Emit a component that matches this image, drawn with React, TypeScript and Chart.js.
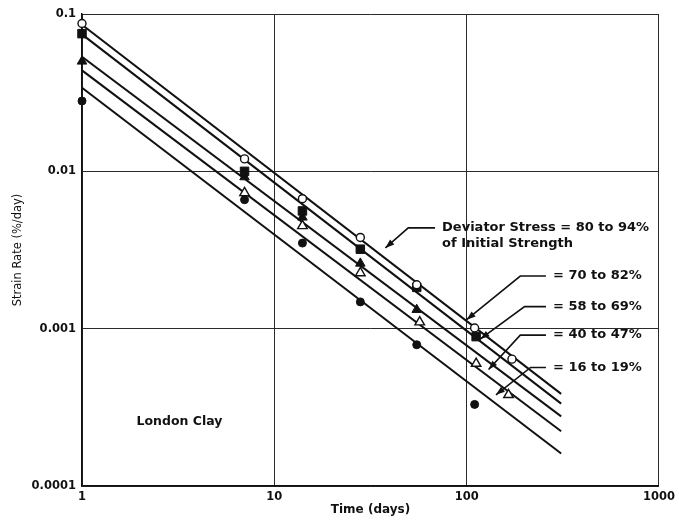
import React, { useEffect, useRef } from "react";
import { Chart, registerables } from "chart.js";

Chart.register(...registerables);

// ---- data ----
const xTickValues = [1, 10, 100, 1000];
const xTickLabels = ["1", "10", "100", "1000"];
const yTickValues = [0.0001, 0.001, 0.01, 0.1];
const yTickLabels = ["0.0001", "0.001", "0.01", "0.1"];

// measured points (Time in days, Strain rate in %/day)
const openCircleX = [1, 7, 14, 28, 55, 110, 172];
const openCircleY = [0.087, 0.012, 0.0067, 0.0038, 0.0019, 0.00101, 0.00064];
const filledSquareX = [1, 7, 14, 28, 55, 112];
const filledSquareY = [0.075, 0.01, 0.0056, 0.0032, 0.00183, 0.00089];
const filledTriangleX = [1, 7, 14, 28, 55];
const filledTriangleY = [0.05, 0.0092, 0.0051, 0.0026, 0.00132];
const openTriangleX = [7, 14, 28, 57, 112, 165];
const openTriangleY = [0.0073, 0.0045, 0.00226, 0.0011, 0.0006, 0.00038];
const filledCircleX = [1, 7, 14, 28, 55, 110];
const filledCircleY = [0.028, 0.0066, 0.0035, 0.00148, 0.00079, 0.00033];

// fitted straight lines: value at t = 1 day and at t = 310 days
const fitStartX = 1;
const fitEndX = 310;
const fitStartY = [0.0855, 0.0742, 0.0535, 0.0438, 0.034];
const fitEndY = [0.000385, 0.000334, 0.000277, 0.000223, 0.000161];

// annotation texts
const noteTexts = [
  ["Deviator Stress = 80 to 94%", "of Initial Strength"],
  ["= 70 to 82%"],
  ["= 58 to 69%"],
  ["= 40 to 47%"],
  ["= 16 to 19%"],
];
const noteTextX = [74.5, 281, 281, 281, 281];
const noteTextY = [0.00437, 0.00216, 0.00138, 0.00091, 0.000567];
const noteElbowX = [49.7, 190, 200, 190, 215];
const noteTipX = [37.8, 100, 118, 130, 142];
const noteTipY = [0.00326, 0.00114, 0.00086, 0.00055, 0.00038];

const siteLabel = "London Clay";
const siteLabelX = 1.92;
const siteLabelY = 0.000257;

const xTitle = "Time (days)";
const yTitle = "Strain Rate (%/day)";

const INK = "#111";

const toPts = (xs: number[], ys: number[]) => xs.map((x, i) => ({ x, y: ys[i] }));

const notesPlugin = {
  id: "notes",
  afterDatasetsDraw(chart: any) {
    const { ctx, scales } = chart;
    const xs = scales.x;
    const ys = scales.y;
    ctx.save();
    ctx.strokeStyle = INK;
    ctx.fillStyle = INK;
    ctx.lineWidth = 1.6;
    ctx.font = 'bold 13px "DejaVu Sans"';
    ctx.textBaseline = "middle";
    ctx.textAlign = "left";
    noteTexts.forEach((lines, i) => {
      const tx = xs.getPixelForValue(noteTextX[i]);
      const ty = ys.getPixelForValue(noteTextY[i]);
      lines.forEach((t, k) => ctx.fillText(t, tx, ty + k * 16));
      const ex = xs.getPixelForValue(noteElbowX[i]);
      const ey = ty;
      const px = xs.getPixelForValue(noteTipX[i]);
      const py = ys.getPixelForValue(noteTipY[i]);
      ctx.beginPath();
      ctx.moveTo(tx - 7, ey);
      ctx.lineTo(ex, ey);
      ctx.lineTo(px, py);
      ctx.stroke();
      const ang = Math.atan2(py - ey, px - ex);
      const c = Math.cos(ang);
      const s = Math.sin(ang);
      const L = 9;
      const W = 3.2;
      ctx.beginPath();
      ctx.moveTo(px, py);
      ctx.lineTo(px - L * c + W * s, py - L * s - W * c);
      ctx.lineTo(px - L * c - W * s, py - L * s + W * c);
      ctx.closePath();
      ctx.fill();
    });
    ctx.font = 'bold 12.5px "DejaVu Sans"';
    ctx.fillText(siteLabel, xs.getPixelForValue(siteLabelX), ys.getPixelForValue(siteLabelY));
    ctx.restore();
  },
};

export default function App() {
  const ref = useRef<HTMLCanvasElement | null>(null);

  useEffect(() => {
    if (!ref.current) return;
    const open = { backgroundColor: "#fff", borderColor: INK, borderWidth: 1.4 };
    const filled = { backgroundColor: INK, borderColor: INK, borderWidth: 1 };
    const markerBase = { type: "scatter" as const, showLine: false, clip: false };
    const markerSets: any[] = [
      { ...markerBase, ...open, data: toPts(openCircleX, openCircleY), pointStyle: "circle", pointRadius: 4 },
      { ...markerBase, ...filled, data: toPts(filledSquareX, filledSquareY), pointStyle: "rect", pointRadius: 6 },
      { ...markerBase, ...filled, data: toPts(filledTriangleX, filledTriangleY), pointStyle: "triangle", pointRadius: 5.5 },
      { ...markerBase, ...open, data: toPts(openTriangleX, openTriangleY), pointStyle: "triangle", pointRadius: 5.5 },
      { ...markerBase, ...filled, data: toPts(filledCircleX, filledCircleY), pointStyle: "circle", pointRadius: 4 },
    ];
    const lineSets: any[] = fitStartY.map((v, i) => ({
      type: "line" as const,
      data: [
        { x: fitStartX, y: v },
        { x: fitEndX, y: fitEndY[i] },
      ],
      borderColor: INK,
      borderWidth: 2,
      pointRadius: 0,
      fill: false,
    }));

    const chart = new Chart(ref.current, {
      type: "scatter",
      data: { datasets: [...markerSets, ...lineSets] },
      options: {
        animation: false,
        responsive: false,
        maintainAspectRatio: false,
        layout: { padding: { left: 0, top: 14, right: 19, bottom: 0 } },
        plugins: { legend: { display: false }, tooltip: { enabled: false } },
        scales: {
          x: {
            type: "logarithmic",
            min: 1,
            max: 1000,
            position: "bottom",
            afterBuildTicks: (axis: any) => {
              axis.ticks = xTickValues.map((value) => ({ value }));
            },
            afterFit: (axis: any) => {
              axis.height = 34;
            },
            grid: { color: "#2a2a2a", lineWidth: 1, drawTicks: false },
            border: { display: true, color: INK, width: 1.5 },
            ticks: {
              autoSkip: false,
              maxRotation: 0,
              padding: 4,
              color: INK,
              font: { family: "DejaVu Sans", size: 11.5, weight: "bold" },
              callback: (v: any) => xTickLabels[xTickValues.indexOf(Number(v))] ?? "",
            },
            title: {
              display: true,
              text: xTitle,
              color: INK,
              font: { family: "DejaVu Sans", size: 12, weight: "bold" },
              padding: { top: 0, bottom: 3 },
            },
          },
          y: {
            type: "logarithmic",
            min: 0.0001,
            max: 0.1,
            position: "left",
            afterBuildTicks: (axis: any) => {
              axis.ticks = yTickValues.map((value) => ({ value }));
            },
            afterFit: (axis: any) => {
              axis.width = 82;
            },
            grid: { color: "#2a2a2a", lineWidth: 1, drawTicks: false },
            border: { display: true, color: INK, width: 1.5 },
            ticks: {
              autoSkip: false,
              padding: 6,
              color: INK,
              font: { family: "DejaVu Sans", size: 11.5, weight: "bold" },
              callback: (v: any) => {
                const idx = yTickValues.findIndex((t) => Math.abs(t - Number(v)) / t < 1e-6);
                return idx >= 0 ? yTickLabels[idx] : "";
              },
            },
            title: {
              display: true,
              text: yTitle,
              color: INK,
              font: { family: "DejaVu Sans", size: 11.5, weight: "normal" },
              padding: { top: 11, bottom: 0 },
            },
          },
        },
      },
      plugins: [notesPlugin],
    } as any);
    return () => chart.destroy();
  }, []);

  return (
    <div style={{ position: "fixed", left: 0, top: 0, width: 679, height: 520, background: "#fff" }}>
      <canvas ref={ref} width={679} height={520} style={{ display: "block", width: 679, height: 520 }} />
    </div>
  );
}
